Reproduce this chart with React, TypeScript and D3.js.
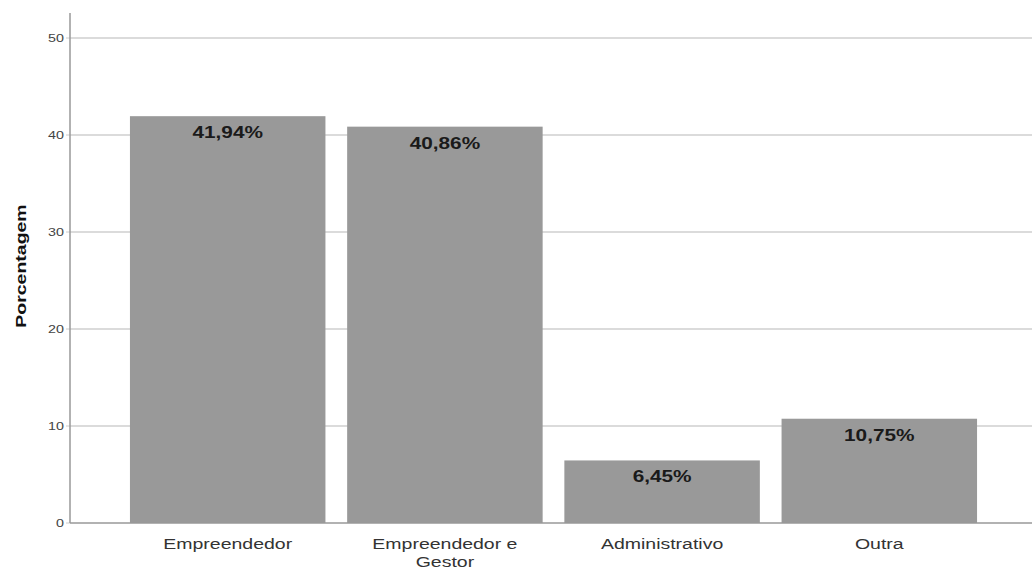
import React from "react";
import * as d3 from "d3";

const categories: string[][] = [["Empreendedor"], ["Empreendedor e", "Gestor"], ["Administrativo"], ["Outra"]];
const values: number[] = [41.94, 40.86, 6.45, 10.75];
const labels: string[] = ["41,94%", "40,86%", "6,45%", "10,75%"];
const yTicks: number[] = [0, 10, 20, 30, 40, 50];

export default function App() {
  const W = 1032, H = 572;
  const x0 = 70, yBottom = 523, yTop50 = 38;
  const SX = 1.3;
  const y = d3.scaleLinear().domain([0, 50]).range([yBottom, yTop50]);
  const keys = categories.map((c) => c.join(" "));
  const x = d3.scaleBand<string>().domain(keys).range([x0, 1037]).paddingInner(0.1).paddingOuter(0.276);
  const font = "'Liberation Sans', Arial, sans-serif";
  return (
    <svg width={W} height={H} style={{ position: "absolute", left: 0, top: 0, background: "#fff" }} fontFamily={font}>
      {yTicks.map((t) => (
        <g key={t}>
          {t > 0 && <line x1={x0} x2={W} y1={y(t)} y2={y(t)} stroke="#cfcfcf" strokeWidth={1.5} />}
          <line x1={x0 - 4} x2={x0} y1={y(t)} y2={y(t)} stroke="#ccc" strokeWidth={1} />
          <g transform={`translate(${x0 - 6},${y(t)}) scale(${SX},1)`}>
            <text dy="0.35em" textAnchor="end" fontSize={11} fill="#444">{t}</text>
          </g>
        </g>
      ))}
      {values.map((v, i) => {
        const k = keys[i];
        const bx = x(k)!;
        const cx = bx + x.bandwidth() / 2;
        return (
          <g key={k}>
            <rect x={bx} y={y(v)} width={x.bandwidth()} height={yBottom - y(v)} fill="#999999" />
            <g transform={`translate(${cx},${y(v) + 22}) scale(${SX},1)`}>
              <text textAnchor="middle" fontSize={16} fontWeight="bold" fill="#1a1a1a">{labels[i]}</text>
            </g>
            {categories[i].map((line, j) => (
              <g key={j} transform={`translate(${cx},${549 + j * 18}) scale(${SX},1)`}>
                <text textAnchor="middle" fontSize={15} fill="#333">{line}</text>
              </g>
            ))}
          </g>
        );
      })}
      <line x1={x0} x2={W} y1={yBottom} y2={yBottom} stroke="#999" strokeWidth={1.5} />
      <line x1={x0} x2={x0} y1={13} y2={yBottom} stroke="#999" strokeWidth={1.5} />
      <g transform={`translate(26,266) rotate(-90) scale(${SX},1)`}>
        <text textAnchor="middle" fontSize={15} fontWeight="bold" fill="#111">Porcentagem</text>
      </g>
    </svg>
  );
}
